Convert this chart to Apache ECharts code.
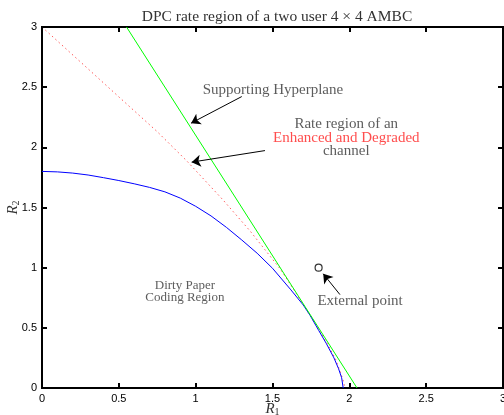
<!DOCTYPE html>
<html><head><meta charset="utf-8">
<script src="https://cdn.jsdelivr.net/npm/echarts@6/dist/echarts.min.js"></script>
<style>html,body{margin:0;padding:0;background:#fff}#c{width:504px;height:415px}</style>
</head><body><div id="c"></div>
<script>
// ---- data ----
const axisMin = 0, axisMax = 3, tickStep = 0.5;
const xTicks = [0,0.5,1,1.5,2,2.5,3];
const yTicks = [0,0.5,1,1.5,2,2.5,3];
const dpcRegion = [[0,1.8],[0.1,1.796],[0.2,1.786],[0.3,1.77],[0.4,1.748],[0.5,1.724],[0.6,1.697],[0.7,1.667],[0.8,1.63],[0.9,1.578],[1.0,1.51],[1.1,1.43],[1.2,1.335],[1.3,1.23],[1.4,1.12],[1.5,0.995],[1.62,0.815],[1.7,0.69],[1.744,0.605],[1.8,0.48],[1.85,0.37],[1.9,0.25],[1.93,0.16],[1.95,0.085],[1.96,0]];
const edRegion = [[0,3],[0.25,2.71],[0.508,2.41],[0.75,2.13],[0.94,1.89],[1.18,1.56],[1.354,1.305],[1.55,0.99],[1.65,0.795],[1.744,0.605],[1.8,0.49],[1.86,0.36],[1.91,0.24],[1.945,0.12],[1.965,0.04],[1.97,0]];
const hyperplane = [[0.55,3],[2.05,0]];
const externalPoint = [[1.8,1]];
const arrowFrom = [[1.30,2.422],[1.451,1.973],[1.939,0.776]];
const arrowTo = [[0.97,2.201],[0.974,1.877],[1.83,0.949]];
const annotationText = ['Supporting Hyperplane','Rate region of an\n{r|Enhanced and Degraded}\nchannel','Dirty Paper\nCoding Region','External point'];
const annotationPos = [[1.503,2.473],[1.98,2.08],[0.93,0.80],[2.07,0.72]];
const annotationSize = [15,15,13,15];
const titleText = 'DPC rate region of a two user 4 \u00d7 4 AMBC';

// ---- chart ----
const chart = echarts.init(document.getElementById('c'), null, {renderer:'canvas'});
const serif = '"Liberation Serif", "DejaVu Serif", serif';
const G = {left:42, right:1, top:27, bottom:27};
function makeAxis(extra){
  return Object.assign({
    type:'value', min: axisMin, max: axisMax, interval: tickStep,
    axisLine: {show:true, onZero:false, lineStyle:{color:'#000', width:2}},
    axisTick: {show:false},
    splitLine: {show:false},
    axisLabel: {show:true, color:'#000', fontFamily:'"Liberation Sans", Arial, sans-serif', fontSize:11, showMinLabel:true, showMaxLabel:true, margin:5}
  }, extra);
}
const nameRich = {i:{fontFamily:serif, fontStyle:'italic', fontSize:15, color:'#333'},
                  s:{fontFamily:serif, fontSize:10, color:'#333', verticalAlign:'bottom', padding:[6,0,0,0]}};
// inward ticks (5 px) on all four sides, expressed in axis units
const W = 504 - G.left - G.right, H = 415 - G.top - G.bottom;
const tx = 5 * (axisMax - axisMin) / W, ty = 5 * (axisMax - axisMin) / H;
const tickSegs = [];
xTicks.forEach(t => { tickSegs.push([[t,axisMin],[t,axisMin+ty]]); tickSegs.push([[t,axisMax],[t,axisMax-ty]]); });
yTicks.forEach(t => { tickSegs.push([[axisMin,t],[axisMin+tx,t]]); tickSegs.push([[axisMax,t],[axisMax-tx,t]]); });

chart.setOption({
  animation:false,
  title:{text:titleText, left:272, top:4, textAlign:'center',
    textStyle:{fontFamily:serif, fontSize:15.5, fontWeight:'normal', color:'#333'}},
  grid:{left:G.left, right:G.right, top:G.top, bottom:G.bottom, outerBoundsMode:'none',
    show:true, borderColor:'#000', borderWidth:2, backgroundColor:'rgba(255,255,255,0)'},
  xAxis: makeAxis({name:'{i|R}{s|1}', nameLocation:'middle', nameGap:13, nameMoveOverlap:false, nameTextStyle:{rich:nameRich}}),
  yAxis: makeAxis({name:'{i|R}{s|2}', nameLocation:'middle', nameGap:21, nameMoveOverlap:false, nameRotate:90, nameTextStyle:{rich:nameRich}}),
  series:[
    {type:'line', data:edRegion, showSymbol:false, clip:true,
      lineStyle:{color:'#ff5c5c', width:1, type:[1.5,3]}, z:2},
    {type:'line', data:dpcRegion, showSymbol:false, clip:true,
      lineStyle:{color:'#0000ff', width:1}, z:3},
    {type:'line', data:hyperplane, showSymbol:false, clip:true,
      lineStyle:{color:'#00ff00', width:1}, z:4},
    {type:'scatter', data:externalPoint, symbol:'circle', symbolSize:7,
      itemStyle:{color:'#fff', borderColor:'#000', borderWidth:1.2}, z:5},
    {type:'lines', coordinateSystem:'cartesian2d', polyline:false,
      symbol:['none','arrow'], symbolSize:[6,9],
      lineStyle:{color:'#000', width:1, opacity:1},
      data:arrowFrom.map((f,i)=>({coords:[f, arrowTo[i]]})), z:6},
    {type:'lines', coordinateSystem:'cartesian2d', polyline:false, silent:true,
      symbol:['none','arrow'], symbolSize:[0.1,0.1], lineStyle:{color:'#000', width:2, opacity:1},
      data:tickSegs.map(s=>({coords:s})), z:6},
    {type:'scatter', symbolSize:0, silent:true, z:7,
      data:annotationText.map((t,i)=>({value:annotationPos[i], name:t,
        label:{fontSize:annotationSize[i], lineHeight:annotationSize[i]<14?11.5:13.5}})),
      label:{show:true, position:'inside', align:'center', verticalAlign:'middle',
        formatter:p=>p.name, fontFamily:serif, color:'#333',
        rich:{r:{color:'#ff2020', fontFamily:serif, fontSize:15, lineHeight:13.5}}}}
  ]
});
</script></body></html>
